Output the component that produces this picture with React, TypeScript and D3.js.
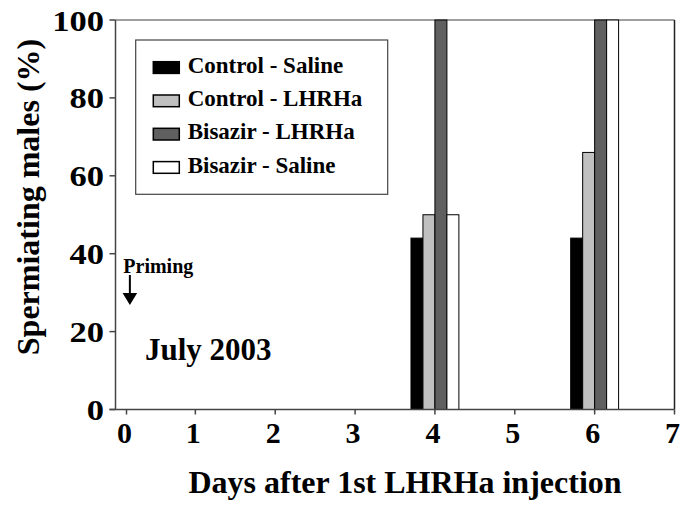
import React from "react";
import * as d3 from "d3";

const days = [4, 6];
const seriesNames = ["Control - Saline", "Control - LHRHa", "Bisazir - LHRHa", "Bisazir - Saline"];
const controlSaline = [44, 44];
const controlLHRHa = [50, 66];
const bisazirLHRHa = [100, 100];
const bisazirSaline = [50, 100];
const seriesColors = ["#000000", "#c0c0c0", "#606060", "#ffffff"];
const xTicks = [0, 1, 2, 3, 4, 5, 6, 7];
const yTicks = [0, 20, 40, 60, 80, 100];
const primingDay = 0.18;

const W = 681;
const H = 508;
const FONT = "'Liberation Serif', 'Times New Roman', serif";

export default function App() {
  const series = [controlSaline, controlLHRHa, bisazirLHRHa, bisazirSaline];
  const x = d3.scaleLinear().domain([0, 7]).range([115.5, 674.5]);
  const y = d3.scaleLinear().domain([0, 100]).range([409.5, 20]);
  const barW = 0.15; // in days
  const zeroNudge = 11;
  const tickX = (t: number) => x(t) + (t === 0 ? zeroNudge : 0);

  const bars: React.ReactNode[] = [];
  days.forEach((d, di) => {
    series.forEach((s, si) => {
      const x0 = x(d + (si - 2) * barW);
      const x1 = x(d + (si - 1) * barW);
      const v = s[di];
      bars.push(
        <rect
          key={`${di}-${si}`}
          x={x0}
          y={y(v)}
          width={x1 - x0}
          height={y(0) - y(v)}
          fill={seriesColors[si]}
          stroke="#000"
          strokeWidth={1}
        />
      );
    });
  });

  const px = x(primingDay);

  return (
    <svg width={W} height={H} style={{ position: "absolute", left: 0, top: 0, background: "#fff" }}>
      <rect x={0} y={0} width={W} height={H} fill="#fff" />
      {/* frame top/right */}
      <line x1={x(0)} x2={x(7)} y1={y(100)} y2={y(100)} stroke="#808080" strokeWidth={1.5} />
      <line x1={x(7)} x2={x(7)} y1={y(100)} y2={y(0)} stroke="#222" strokeWidth={1.5} />
      {bars}
      {/* axes */}
      <line x1={x(0)} x2={x(0)} y1={y(100)} y2={y(0)} stroke="#444" strokeWidth={1.5} />
      <line x1={x(0) - 6} x2={x(7)} y1={y(0)} y2={y(0)} stroke="#444" strokeWidth={1.5} />
      {yTicks.map((t) => (
        <g key={`y${t}`}>
          <line x1={x(0) - 6} x2={x(0)} y1={y(t)} y2={y(t)} stroke="#444" strokeWidth={1.5} />
          <text
            transform={`translate(104,${y(t) + 10.5}) scale(1.15,1)`}
            textAnchor="end"
            fontFamily={FONT}
            fontWeight="bold"
            fontSize={30}
            fill="#000"
          >
            {t}
          </text>
        </g>
      ))}
      {xTicks.map((t) => (
        <g key={`x${t}`}>
          <line x1={tickX(t)} x2={tickX(t)} y1={y(0)} y2={y(0) + 5} stroke="#444" strokeWidth={1.5} />
          <text
            x={tickX(t) - 2}
            y={443}
            textAnchor="middle"
            fontFamily={FONT}
            fontWeight="bold"
            fontSize={30}
            fill="#000"
          >
            {t}
          </text>
        </g>
      ))}
      {/* axis titles */}
      <text
        x={405}
        y={493}
        textAnchor="middle"
        fontFamily={FONT}
        fontWeight="bold"
        fontSize={32}
        fill="#000"
      >
        Days after 1st LHRHa injection
      </text>
      <text
        transform={`translate(38.5,197) rotate(-90)`}
        textAnchor="middle"
        fontFamily={FONT}
        fontWeight="bold"
        fontSize={32}
        fill="#000"
      >
        Spermiating males (%)
      </text>
      {/* legend */}
      <rect x={135.7} y={40} width={252} height={154.3} fill="#fff" stroke="#444" strokeWidth={1.2} />
      {seriesNames.map((n, i) => (
        <g key={n}>
          <rect
            x={153.3}
            y={61.7 + i * 33.3}
            width={26}
            height={11.7}
            fill={seriesColors[i]}
            stroke="#000"
            strokeWidth={1.5}
          />
          <text
            x={187.7}
            y={72.7 + i * 33.3}
            fontFamily={FONT}
            fontWeight="bold"
            fontSize={23}
            fill="#000"
          >
            {n}
          </text>
        </g>
      ))}
      {/* annotations */}
      <text x={123.3} y={272.7} fontFamily={FONT} fontWeight="bold" fontSize={20} fill="#000">
        Priming
      </text>
      <line x1={px} x2={px} y1={275} y2={294} stroke="#000" strokeWidth={2} />
      <path d={`M${px - 7.3},293 L${px + 7.3},293 L${px},305 Z`} fill="#000" />
      <text x={145} y={360} fontFamily={FONT} fontWeight="bold" fontSize={31} fill="#000">
        July 2003
      </text>
    </svg>
  );
}
